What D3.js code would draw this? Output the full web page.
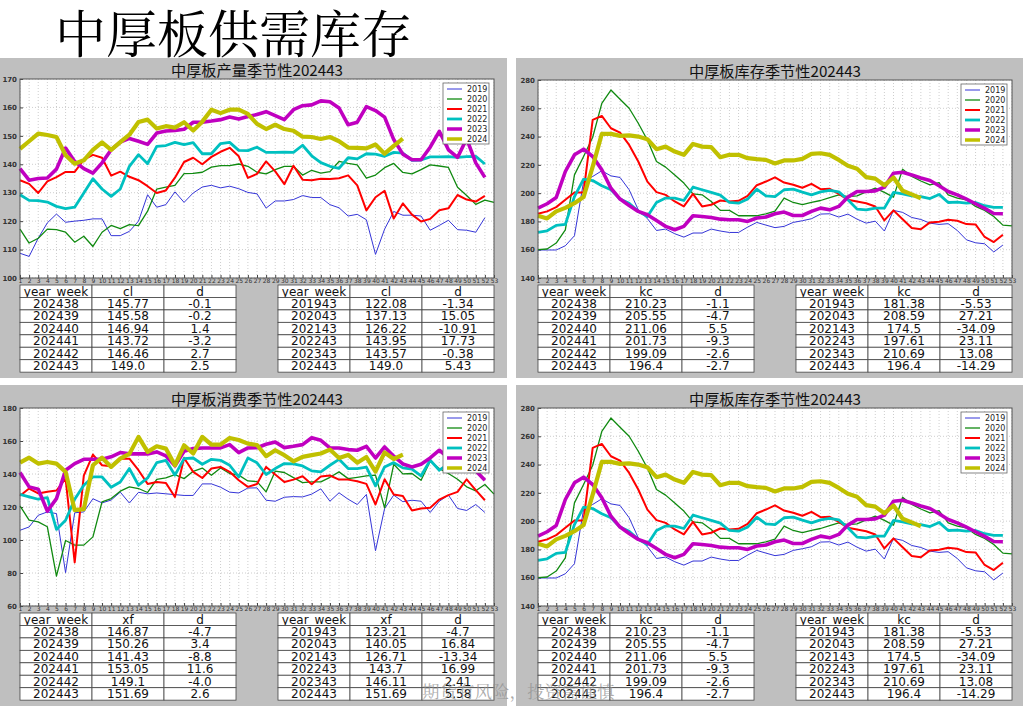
<!DOCTYPE html>
<html><head><meta charset="utf-8">
<script src="https://cdn.jsdelivr.net/npm/d3@7/dist/d3.min.js"></script>
<style>body{margin:0;background:#fff;} svg{display:block}</style>
</head><body><svg id="c" width="1036" height="709"></svg>
<script>
// ---------- data ----------
const weeks = d3.range(1, 54);
const years = ['2019','2020','2021','2022','2023','2024'];

// production (cl)
const cl2019 = [108.7,107.6,114,119.4,122.5,119.6,120,120.3,120.8,120.8,114.9,114.9,116.4,120,129.3,124.9,125.8,130.3,126.6,129.9,132,132.6,131.7,132.3,131.4,130.1,129.6,124.6,127.1,127.1,127.6,129,128.3,128.3,125.8,124.7,121.8,122.4,120.5,108.3,117.2,123.4,122.08,122.1,121.8,116.8,118.5,120.3,117,116.8,116.1,121.2];
const cl2020 = [117.2,112.3,114,117.2,117,116.1,112.6,114.7,111.1,116.1,118.5,117.4,118.8,118.4,123.5,131.3,132,132.6,136.7,136.8,137.2,139,139.5,139.5,140.1,139.3,137.2,136.6,138.1,139.3,139.3,136.2,137.9,136.9,137.4,141,140.3,139.8,135.1,136.2,138.8,140.3,137.13,136.6,138.1,139.8,139.4,138.9,131.9,129,125.9,127.4,126.6];
const cl2021 = [134.4,133.1,129.9,134,135.5,137.3,137.3,141.6,143.3,142.3,136,137.4,135.6,134.4,132.3,129.9,130.8,135.3,140.8,142.3,140,142.6,144.4,145.8,142.8,135.2,136.6,141,137.5,133,139.5,134.6,134.4,134.9,134.8,135.1,136.1,132.6,123.8,128.4,130.7,120.9,126.22,122.3,119.9,120.8,123.8,124.5,129.2,127.6,126.9,128.9];
const cl2022 = [129.3,127.3,127.2,126.7,125.2,124.4,124.9,129.9,134.9,131.3,128.7,131.3,139.3,143.4,140.2,146.3,146.6,147.7,146.9,147.6,143.7,143.7,147.3,147.7,144.9,144.8,146,144.2,144.2,144.3,144.2,146.7,143,140.6,139.3,138.6,142.3,141.9,143.7,143.6,142.8,144.2,143.95,141.4,141.5,142.6,142.6,142.7,142.4,142.7,142.8,140.1];
const cl2023 = [138.5,134.4,135,135.2,138.3,145.7,141,138.5,136.9,140.5,145.1,147.8,149.1,148.1,147,151,151.7,151.9,152.3,154.8,154.8,155.2,155.7,156.6,155.9,156.8,157.5,158.5,157.1,155.7,159.2,160.6,160.9,162.3,162,159.8,153.9,154.8,160.3,158.9,156.6,148.7,143.57,141.6,141.6,146,151.6,145.1,142.4,149,140.5,135.4];
const cl2024 = [145.4,148.1,150.8,150.3,149.6,143.2,140.2,141.4,145.1,147.7,145.1,147.8,150.4,154.9,155.7,152.6,153.4,152.9,154.8,151.9,155,159.2,158,159.2,159.2,157.7,154.2,152.4,153.9,152.4,151.8,149.7,149.6,148.9,149.6,148.1,145.87,145.77,145.58,146.94,143.72,146.46,149.0];

// inventory (kc)
const kc2019 = [159.8,159.8,159.8,162.8,169.9,208.2,211.8,215.8,212.2,211.1,202.4,188.2,182,173.6,174.6,171.3,168.9,171.8,171.8,174.6,173.2,172.2,172.2,176,179.3,177.4,175.6,176.5,179.3,180.5,181.9,185.2,185.4,183.1,185.2,181.6,178.8,180.2,173.2,187.8,186.4,182.8,181.38,178.8,177.9,178.4,173.6,167,164.9,164.2,158.4,163.3];
const kc2020 = [160,160.5,164.7,174.1,212.9,225.9,239.5,263.5,272.9,266.4,260,249.4,237.6,222.4,218.4,212.9,207.1,199.5,198.8,194.1,187.8,187.8,184,184,184,185.4,187.3,196.5,193.4,191.8,193.4,194.8,196.9,198.8,197.6,198.1,200.9,203.5,200.5,197.2,216.9,211.8,208.59,205.9,207.5,198.8,196.5,195.3,190.6,187.8,183.5,177.4,176.9];
const kc2021 = [185.4,187.1,190.1,195.3,200.5,200.5,251.8,254.6,245.9,242.8,234.1,222.4,208.2,200.7,198.8,194.1,190.6,199.5,190.6,191.8,194.8,194.1,194.6,198.1,205.6,208.2,211.2,207.5,205.9,203.8,206.6,202.8,203.1,199.5,195.3,194.1,192.9,190.6,180.7,187.8,181.6,175.3,174.5,179.3,179.8,181.2,180.5,178.1,177.9,169,165.4,170.6];
const kc2022 = [172.2,173.4,177.2,177.9,197.6,209.9,208.9,205.2,202.4,195.8,192.9,187.1,183.5,193.4,196.5,196.5,194.8,204.2,202.4,200.5,198.6,193.4,192.9,195.8,202.8,198.1,197.6,202.4,202.8,200.7,198.8,200.9,201.9,200.9,195.3,188.7,188.2,189.4,189.4,200.5,199.5,198.1,197.61,196.2,199.1,193.4,193.6,192.9,193.4,191.1,189.9,189.9];
const kc2023 = [189.4,192.5,196.9,215.3,227.1,231.1,225.9,216.5,203.5,195.8,191.3,187.1,184.7,180.7,176.5,174.1,176.5,184,183.5,182.8,181.6,181.2,181.2,180,182.4,183.1,185.4,186.6,184.2,184.2,187.1,189.4,188.2,190.6,197.2,201.2,201.2,201.6,204.2,214.1,214.8,212.9,210.69,208.9,205.2,201.2,198.8,195.8,192.5,189.2,185.6,185.4];
const kc2024 = [184,182.1,187.1,189.6,192.9,197.2,218.8,241.9,241.9,240.5,240.9,240,238.1,231.1,232.9,229.4,227.1,234.8,232.9,232.5,225.4,227.1,227.1,224.7,224,223.5,221,223.1,223.1,224.2,227.8,228.2,227.1,223.5,219.3,217.2,211.33,210.23,205.55,211.06,201.73,199.09,196.4];

// consumption (xf)
const xf2019 = [105.9,107.9,115,117,116,80.2,116.5,117,125,122.5,124.2,129,122.4,128.9,128,128.5,128,127.5,127,127,134,134,132,129,128.5,131.5,131.6,124.1,123.5,125.9,126.3,126.1,127.8,131,123.5,128.6,124.7,121.5,127.6,93.5,119.1,127.2,123.21,124.1,123.5,116.7,123.5,127.2,119.1,117.9,121.5,116.7];
const xf2020 = [120.7,112,111,108,78.1,99.7,96.9,96.9,101.9,123.1,125.1,129.6,132.2,131.2,128.8,136.8,137.6,139.6,137.2,141.6,143.6,139.2,143.6,140.3,139.3,135.8,135.4,129.2,141.7,140.9,137.8,134.8,135.2,135.2,138,141.3,137.2,138,138.9,139.3,119.5,145.9,140.05,140.3,136.2,147.7,143.3,140.3,136.8,132.2,129.8,133.6,127.8];
const xf2021 = [126.8,131.2,128.2,129.2,130,137.2,86.4,139,151.8,145.3,144.7,149.3,149.3,142.3,134,135.2,134.6,126.1,149.7,141.3,137.6,143.3,144.3,141.3,136.2,132.2,133.9,144.3,139.7,135.2,136.6,138.6,133.8,138.5,139.1,136.6,136.6,135.6,134,121.5,136.8,127.6,126.71,117.9,119.1,119.5,124.5,127.2,129.2,136.8,130.2,124.1];
const xf2022 = [127.6,126.1,124.7,125.7,106.4,112,124.7,133.2,138.2,138.2,132,135.2,143.3,133.2,137.6,146.9,148.3,139.3,149.3,149.7,145.9,148.9,148.3,145.3,138.2,149.7,146.8,139.7,143.3,146.3,146.1,144.9,141.9,141.3,145.3,148.9,143.3,143.3,144.1,132.8,144.3,146.9,143.7,142.9,138.9,148.3,142.3,146,145,144,143,142];
const xf2023 = [140.9,132.2,130.8,117.5,125.1,142.3,146.3,148.9,148.9,148.9,150.4,153,152.2,152.2,152.2,153.4,151,144.9,153.8,155.4,155.8,155.8,155.8,157.8,153,155.8,155.9,158,159.4,156,156.8,157.8,162,160.4,155.8,155.8,154.8,154.4,156.8,149.7,156.4,150.8,146.11,144.3,145.9,149.7,154.4,150,148,146,142,136.2];
const xf2024 = [146.9,149.9,146.3,147.3,146.3,141.3,118.1,118.7,145.3,149.9,144.3,149.3,152.2,162.5,153.4,156.8,155.4,145.3,157.4,152.4,162.5,157.8,157.8,161.8,160.6,158.4,157.6,150.8,154.4,151.4,147.7,150.4,151.4,152.4,154.8,149.7,151.57,146.87,150.26,141.43,153.05,149.1,151.69];

// tables
const clRecent = [['202438','145.77','-0.1'],['202439','145.58','-0.2'],['202440','146.94','1.4'],['202441','143.72','-3.2'],['202442','146.46','2.7'],['202443','149.0','2.5']];
const clYoY = [['201943','122.08','-1.34'],['202043','137.13','15.05'],['202143','126.22','-10.91'],['202243','143.95','17.73'],['202343','143.57','-0.38'],['202443','149.0','5.43']];
const kcRecent = [['202438','210.23','-1.1'],['202439','205.55','-4.7'],['202440','211.06','5.5'],['202441','201.73','-9.3'],['202442','199.09','-2.6'],['202443','196.4','-2.7']];
const kcYoY = [['201943','181.38','-5.53'],['202043','208.59','27.21'],['202143','174.5','-34.09'],['202243','197.61','23.11'],['202343','210.69','13.08'],['202443','196.4','-14.29']];
const xfRecent = [['202438','146.87','-4.7'],['202439','150.26','3.4'],['202440','141.43','-8.8'],['202441','153.05','11.6'],['202442','149.1','-4.0'],['202443','151.69','2.6']];
const xfYoY = [['201943','123.21','-4.7'],['202043','140.05','16.84'],['202143','126.71','-13.34'],['202243','143.7','16.99'],['202343','146.11','2.41'],['202443','151.69','5.58']];

const clTicks = [100,110,120,130,140,150,160,170];
const kcTicks = [140,160,180,200,220,240,260,280];
const xfTicks = [60,80,100,120,140,160,180];

// ---------- styles ----------
const colors = ['#3535d8','#108a10','#ff0000','#00c0c0','#c000c0','#c0c000'];
const widths = [1,1.3,2,2.8,3.6,4.2];
const svg = d3.select('#c');

svg.append('text').attr('x',55).attr('y',53)
  .attr('font-family',"'Noto Serif CJK SC','Noto Sans CJK SC',serif")
  .attr('font-size',51).attr('fill','#000').text('中厚板供需库存');

const panels = [
  {rect:[0,58,507,320], plot:[20,79,494,278], title:'中厚板产量季节性202443', ticks:clTicks, series:[cl2019,cl2020,cl2021,cl2022,cl2023,cl2024], col:'cl', t1:clRecent, t2:clYoY},
  {rect:[516,58,507,320], plot:[538,80,1012,278], title:'中厚板库存季节性202443', ticks:kcTicks, series:[kc2019,kc2020,kc2021,kc2022,kc2023,kc2024], col:'kc', t1:kcRecent, t2:kcYoY},
  {rect:[0,385,507,321], plot:[20,408,494,606], title:'中厚板消费季节性202443', ticks:xfTicks, series:[xf2019,xf2020,xf2021,xf2022,xf2023,xf2024], col:'xf', t1:xfRecent, t2:xfYoY},
  {rect:[516,385,507,321], plot:[538,408,1012,606], title:'中厚板库存季节性202443', ticks:kcTicks, series:[kc2019,kc2020,kc2021,kc2022,kc2023,kc2024], col:'kc', t1:kcRecent, t2:kcYoY}
];

function drawTable(g, x0, y0, rows, col) {
  const cw = 72, rh = 12.45;
  const all = [['year_week', col, 'd']].concat(rows);
  all.forEach((r, i) => {
    r.forEach((c, j) => {
      g.append('rect').attr('x', x0 + j*cw).attr('y', y0 + i*rh).attr('width', cw).attr('height', rh)
        .attr('fill', '#fff').attr('stroke', '#444').attr('stroke-width', 0.8);
      g.append('text').attr('x', x0 + j*cw + cw/2).attr('y', y0 + i*rh + rh/2 + 4.3)
        .attr('text-anchor', 'middle').attr('font-family', "'DejaVu Sans',sans-serif")
        .attr('font-size', 12).attr('fill', '#111').text(c);
    });
  });
}

panels.forEach(p => {
  const g = svg.append('g');
  g.append('rect').attr('x',p.rect[0]).attr('y',p.rect[1]).attr('width',p.rect[2]).attr('height',p.rect[3]).attr('fill','#bfbfbf');
  const [x0,y0,x1,y1] = p.plot;
  const x = d3.scaleLinear().domain([1,53]).range([x0,x1]);
  const y = d3.scaleLinear().domain([p.ticks[0], p.ticks[p.ticks.length-1]]).range([y1,y0]);
  g.append('rect').attr('x',x0).attr('y',y0).attr('width',x1-x0).attr('height',y1-y0).attr('fill','#fff');
  // grid
  g.append('g').selectAll('line').data(weeks).join('line')
    .attr('x1',d=>x(d)).attr('x2',d=>x(d)).attr('y1',y0).attr('y2',y1)
    .attr('stroke','#b8b8b8').attr('stroke-width',0.7).attr('stroke-dasharray','1,2');
  g.append('g').selectAll('line').data(p.ticks).join('line')
    .attr('x1',x0).attr('x2',x1).attr('y1',d=>y(d)).attr('y2',d=>y(d))
    .attr('stroke','#b8b8b8').attr('stroke-width',0.7).attr('stroke-dasharray','1,2');
  // axes
  const ay = g.append('g').attr('transform',`translate(${x0},0)`)
    .call(d3.axisLeft(y).tickValues(p.ticks).tickSize(-3).tickPadding(3));
  ay.select('.domain').remove();
  ay.selectAll('text').attr('font-size',7).attr('font-weight','bold').attr('fill','#333').attr('font-family',"'DejaVu Sans',sans-serif");
  ay.selectAll('line').attr('stroke','#444');
  const ax = g.append('g').attr('transform',`translate(0,${y1})`)
    .call(d3.axisBottom(x).tickValues(weeks).tickFormat(d3.format('d')).tickSize(-3).tickPadding(1));
  ax.select('.domain').remove();
  ax.selectAll('text').attr('font-size',6).attr('fill','#333').attr('font-family',"'DejaVu Sans',sans-serif");
  ax.selectAll('line').attr('stroke','#444');
  // lines
  const line = d3.line().defined(d=>d!=null).x((d,i)=>x(i+1)).y(d=>y(d));
  p.series.forEach((s,i) => {
    g.append('path').attr('d', line(s)).attr('fill','none').attr('stroke',colors[i])
      .attr('stroke-width',widths[i]).attr('stroke-linejoin','round');
  });
  g.append('rect').attr('x',x0).attr('y',y0).attr('width',x1-x0).attr('height',y1-y0)
    .attr('fill','none').attr('stroke','#555').attr('stroke-width',1);
  // title
  g.append('text').attr('x',(x0+x1)/2).attr('y',y0-3).attr('text-anchor','middle')
    .attr('font-family',"'Noto Sans CJK SC',sans-serif").attr('font-size',15.2).attr('fill','#111').text(p.title);
  // legend
  const lx = x1 - 51, ly = y0 + 4;
  g.append('rect').attr('x',lx).attr('y',ly).attr('width',46).attr('height',61)
    .attr('fill','#fff').attr('stroke','#666').attr('stroke-width',0.8);
  years.forEach((yr,i) => {
    const yy = ly + 6 + i*10;
    g.append('line').attr('x1',lx+4).attr('x2',lx+19).attr('y1',yy).attr('y2',yy)
      .attr('stroke',colors[i]).attr('stroke-width',Math.min(widths[i],3.5));
    g.append('text').attr('x',lx+24).attr('y',yy+3).attr('font-size',8)
      .attr('font-family',"'DejaVu Sans',sans-serif").attr('fill','#222').text(yr);
  });
  // tables
  drawTable(g, x0, y1+7, p.t1, p.col);
  drawTable(g, x1-216, y1+7, p.t2, p.col);
});

svg.append('text').attr('x',422).attr('y',698)
  .attr('font-family',"'Noto Serif CJK SC','Noto Sans CJK SC',serif")
  .attr('font-size',17.5).attr('fill','#909090').attr('fill-opacity',0.75).text('期货有风险，投资需谨慎');
</script></body></html>
